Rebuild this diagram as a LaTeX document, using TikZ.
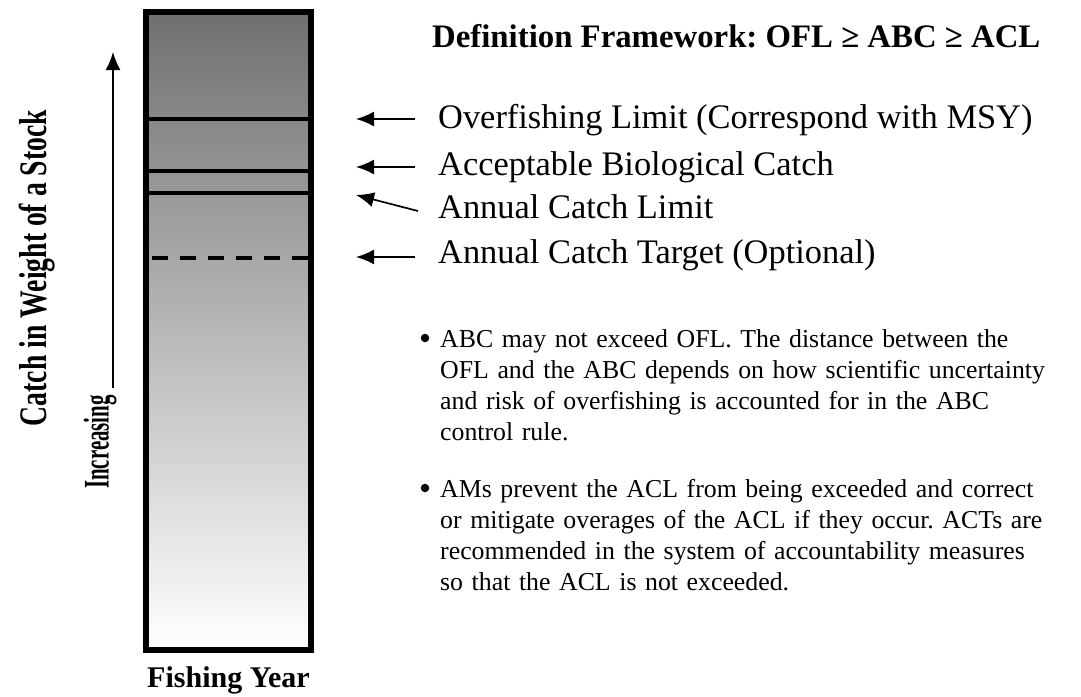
\documentclass[tikz,border=0pt]{standalone}
\usepackage{fontspec}
\setmainfont{Liberation Serif}
\usetikzlibrary{arrows.meta}
\definecolor{colTop}{RGB}{112,112,112}
\frenchspacing
\tikzset{
    lbl/.style={anchor=base west, inner sep=0pt, font=\fontsize{34.4}{40}\selectfont},
    lblarrow/.style={-{Latex[length=18pt,width=15pt]}, line width=1.7pt},
    limitline/.style={line width=4pt},
    bullettext/.style={anchor=base west, inner sep=0pt, text width=640pt, align=left,
        font=\fontsize{25.8}{31}\selectfont},
    bulletdot/.style={circle, fill, inner sep=0pt, minimum size=8.5pt},
}
\begin{document}
\begin{tikzpicture}[x=1pt,y=-1pt]
    \useasboundingbox (0,0) rectangle (1081,696);

    % catch column
    \node[draw, line width=4pt, minimum width=163pt, minimum height=636pt, inner sep=0pt,
        top color=colTop, bottom color=white] (col) at (228.5,331) {};
    \foreach \y in {119,171,193}
        \draw[limitline] (col.west |- 0,\y) -- (col.east |- 0,\y);
    \draw[limitline, dash pattern=on 16pt off 12pt] ([xshift=7pt]col.west |- 0,258) -- (col.east |- 0,258);
    \draw[line width=4pt] (col.north west) rectangle (col.south east);

    % axis labels
    \coordinate (upstart) at (113,388);
    \coordinate (upend) at (113,52);
    \draw[lblarrow] (upstart) -- (upend);
    \node[rotate=90, inner sep=0pt, font=\bfseries\fontsize{39}{44}\selectfont] (catch) at (37,268)
        {\scalebox{0.71}[1]{Catch in Weight of a Stock}};
    \node[rotate=90, inner sep=0pt, font=\bfseries\fontsize{36}{40}\selectfont] (incr) at (100,442)
        {\scalebox{0.58}[1]{Increasing}};
    \node[anchor=base, inner sep=0pt, font=\bfseries\fontsize{30}{34}\selectfont] (year) at (228.5,687)
        {Fishing Year};

    % definitions
    \node[anchor=base west, inner sep=0pt, font=\bfseries\fontsize{32.8}{36}\selectfont] (title) at (432,47)
        {Definition Framework: OFL ≥ ABC ≥ ACL};
    \node[lbl] (ofl) at (438,128) {Overfishing Limit (Correspond with MSY)};
    \node[lbl] (abc) at (438,175) {Acceptable Biological Catch};
    \node[lbl] (acl) at (438,218) {Annual Catch Limit};
    \node[lbl] (act) at (438,263) {Annual Catch Target (Optional)};

    \coordinate (ofltail) at (415,119);  \coordinate (ofltip) at (356,119);
    \coordinate (abctail) at (415,167);  \coordinate (abctip) at (356,167);
    \coordinate (acltail) at (418,211);  \coordinate (acltip) at (356,195);
    \coordinate (acttail) at (415,257);  \coordinate (acttip) at (356,257);
    \draw[lblarrow] (ofltail) -- (ofltip);
    \draw[lblarrow] (abctail) -- (abctip);
    \draw[lblarrow] (acltail) -- (acltip);
    \draw[lblarrow] (acttail) -- (acttip);

    % notes
    \node[bulletdot] (dotone) at (425,338) {};
    \node[bullettext] (noteone) at (440,347)
        {ABC may not exceed OFL. The distance between the\\
         OFL and the ABC depends on how scientific uncertainty\\
         and risk of overfishing is accounted for in the ABC\\
         control rule.};
    \node[bulletdot] (dottwo) at (425,488) {};
    \node[bullettext] (notetwo) at (440,497)
        {AMs prevent the ACL from being exceeded and correct\\
         or mitigate overages of the ACL if they occur. ACTs are\\
         recommended in the system of accountability measures\\
         so that the ACL is not exceeded.};
\end{tikzpicture}
\end{document}
